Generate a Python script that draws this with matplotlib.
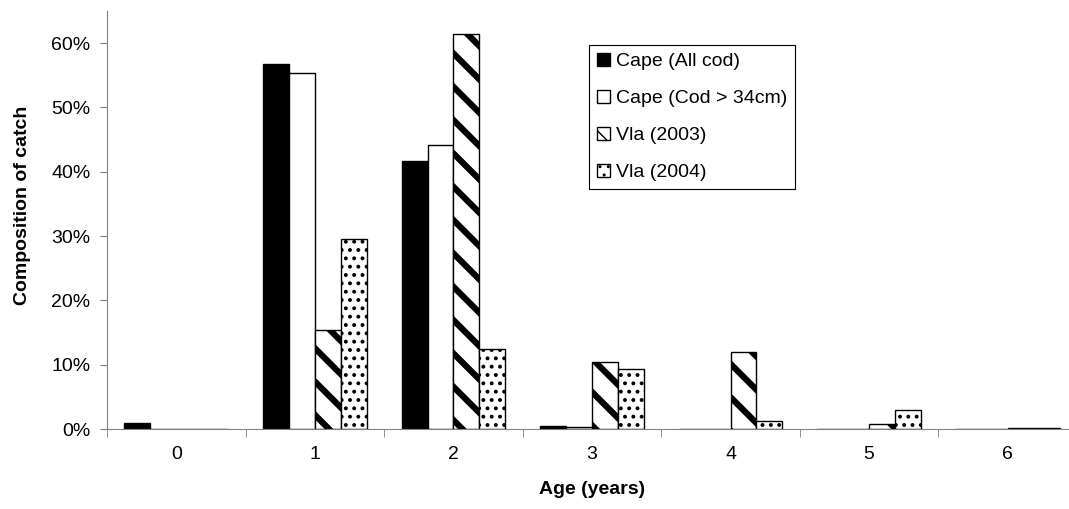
import matplotlib.pyplot as plt
import numpy as np
from matplotlib.ticker import PercentFormatter, FixedLocator

plt.rcParams['font.family'] = ['Liberation Sans', 'DejaVu Sans']

ages = ['0', '1', '2', '3', '4', '5', '6']
cape_all = [0.010, 0.568, 0.417, 0.005, 0.0, 0.0, 0.0]
cape_34 = [0.0, 0.553, 0.441, 0.003, 0.0, 0.0, 0.0]
vla_2003 = [0.0, 0.154, 0.614, 0.104, 0.119, 0.007, 0.002]
vla_2004 = [0.0, 0.295, 0.124, 0.094, 0.012, 0.030, 0.002]

# name, values, face colour, hatch, hatch line width
series = [
    ('Cape (All cod)', cape_all, 'black', '', 1.0),
    ('Cape (Cod > 34cm)', cape_34, 'white', '', 1.0),
    ('Vla (2003)', vla_2003, 'white', '\\', 4.5),
    ('Vla (2004)', vla_2004, 'white', '..', 1.6),
]

fig = plt.figure(figsize=(10.69, 5.09), dpi=100)
ax = fig.add_axes([107 / 1069, 80 / 509, 970 / 1069, 418 / 509])

x = np.arange(len(ages))
w = 0.187
for i, (name, vals, color, hatch, hlw) in enumerate(series):
    with plt.rc_context({'hatch.linewidth': hlw}):
        bars = ax.bar(x + (i - 1.5) * w, vals, w, color=color, edgecolor='black',
                      linewidth=1.0, hatch=hatch, label=name)
    for b in bars:
        if hasattr(b, 'set_hatch_linewidth'):
            b.set_hatch_linewidth(hlw)

ax.set_xlim(-0.5, 6.5)
ax.set_ylim(0, 0.65)
ax.set_yticks(np.arange(0, 0.61, 0.1))
ax.yaxis.set_major_formatter(PercentFormatter(1.0, decimals=0))
ax.set_xticks(x)
ax.set_xticklabels(ages)
ax.xaxis.set_minor_locator(FixedLocator(np.arange(-0.5, 7, 1)))
ax.tick_params(axis='x', which='major', length=0, pad=12, labelsize=14)
ax.tick_params(axis='x', which='minor', length=6, color='#808080')
ax.tick_params(axis='y', length=5, color='#808080', labelsize=14, pad=7)

for s in ['top', 'right']:
    ax.spines[s].set_visible(False)
for s in ['left', 'bottom']:
    ax.spines[s].set_color('#808080')

ax.set_xlabel('Age (years)', fontweight='bold', fontsize=14)
ax.set_ylabel('Composition of catch', fontweight='bold', fontsize=14)
ax.xaxis.set_label_coords(0.5, -0.125)
ax.yaxis.set_label_coords(-0.078, 0.535)

leg = ax.legend(loc='upper left', bbox_to_anchor=(0.497, 0.919), fontsize=14,
                frameon=True, fancybox=False, edgecolor='black', framealpha=1,
                handlelength=0.7, handleheight=0.7, handletextpad=0.3,
                labelspacing=1.0, borderpad=0.4, borderaxespad=0)
leg.get_frame().set_linewidth(0.8)

fig.savefig('out.png', dpi=100)
